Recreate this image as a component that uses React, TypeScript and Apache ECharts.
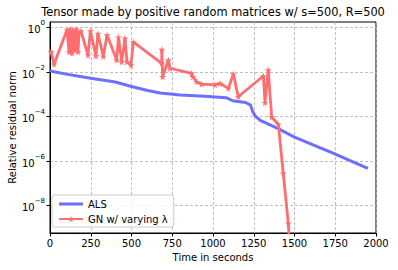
import React, { useEffect, useRef } from "react";
import * as echarts from "echarts";

const titleText = "Tensor made by positive random matrices w/ s=500, R=500";
const xLabel = "Time in seconds";
const yLabel = "Relative residual norm";
const xTicks = [0, 250, 500, 750, 1000, 1250, 1500, 1750, 2000];
const yTicks = [1e-8, 1e-6, 1e-4, 1e-2, 1];

const alsName = "ALS";
const alsTime = [0, 100, 250, 400, 500, 600, 675, 800, 950, 1080, 1100, 1120, 1200, 1230, 1245, 1260, 1290, 1400, 1500, 1750, 1950];
const alsResidual = [1.1e-2, 7.9e-3, 5.2e-3, 3.5e-3, 2.2e-3, 1.45e-3, 1.12e-3, 9.1e-4, 7.9e-4, 6.9e-4, 6.0e-4, 5.0e-4, 4.2e-4, 3.2e-4, 1.55e-4, 1.02e-4, 6.5e-5, 2.8e-5, 1.17e-5, 2.0e-6, 4.6e-7];

const gnName = "GN w/ varying λ";
const gnTime = [6, 25, 104, 117, 123, 135, 141, 153, 160, 172, 178, 190, 233, 248, 282, 294, 327, 350, 409, 420, 440, 460, 472, 497, 511, 685, 686, 691, 726, 736, 869, 877, 900, 931, 1012, 1043, 1094, 1125, 1155, 1309, 1319, 1339, 1360, 1401, 1431, 1462, 1475];
const gnResidual = [7.9e-2, 2.2e-2, 0.76, 7.8e-2, 0.83, 6.9e-2, 0.76, 9.5e-2, 0.83, 7.8e-2, 0.62, 0.68, 5.6e-2, 0.68, 5.1e-2, 0.52, 4.9e-2, 0.45, 3.4e-2, 0.36, 2.8e-2, 0.32, 2.8e-2, 2.0e-2, 0.22, 2.4e-2, 0.1, 6.0e-3, 3.4e-2, 1.45e-2, 8.5e-3, 5.9e-3, 3.6e-3, 2.8e-3, 2.6e-3, 3.0e-3, 1.8e-3, 7.9e-3, 7.6e-4, 6.5e-3, 4.1e-4, 1.2e-2, 9.3e-5, 4.3e-5, 2.75e-7, 1.55e-9, 3.2e-11];

const STAR = "path://M50,0 L61,35 L98,35 L68,57 L79,91 L50,70 L21,91 L32,57 L2,35 L39,35 Z";
const LINE_ICON = "path://M0,0 L24,0 L24,3 L0,3 Z";
const FONT = "DejaVu Sans";
const BLUE = "rgb(110,110,255)";
const RED = "rgb(255,110,110)";

export default function App() {
  const ref = useRef<HTMLDivElement>(null);
  useEffect(() => {
    if (!ref.current) return;
    const chart = echarts.init(ref.current, undefined, { renderer: "svg" });
    const option = {
      animation: false,
      backgroundColor: "#fff",
      textStyle: { fontFamily: FONT },
      graphic: [
        {
          type: "text",
          x: 213,
          y: 12,
          style: {
            text: titleText,
            fontFamily: FONT,
            fontSize: 11.4,
            fill: "#000",
            align: "center",
            verticalAlign: "middle",
          },
        },
        {
          type: "text",
          x: 12,
          y: 127.5,
          rotation: Math.PI / 2,
          style: {
            text: yLabel,
            fontFamily: FONT,
            fontSize: 10,
            fill: "#000",
            align: "center",
            verticalAlign: "middle",
          },
        },
        {
          type: "text",
          x: 213,
          y: 257,
          style: {
            text: xLabel,
            fontFamily: FONT,
            fontSize: 10,
            fill: "#000",
            align: "center",
            verticalAlign: "middle",
          },
        },
      ],
      grid: {
        left: 50, right: 22, top: 22, bottom: 37,
        containLabel: false,
        outerBoundsMode: "none",
        show: true, borderColor: "#000", borderWidth: 1, backgroundColor: "transparent",
      },
      legend: {
        left: 52,
        top: 195,
        orient: "vertical",
        itemWidth: 24,
        itemHeight: 8,
        itemGap: 5,
        padding: [4, 6, 3, 6],
        borderColor: "#cccccc",
        borderWidth: 1,
        borderRadius: 3,
        backgroundColor: "rgba(255,255,255,0.8)",
        textStyle: { fontFamily: FONT, fontSize: 10, color: "#000" },
        data: [{ name: alsName, icon: LINE_ICON, itemStyle: { color: BLUE } }, gnName],
      },
      xAxis: {
        type: "value",
        min: 0,
        max: 2000,
        interval: 250,
        axisLine: { show: true, lineStyle: { color: "#000", width: 1 } },
        axisTick: { show: true, inside: false, length: 3.5, lineStyle: { color: "#000" } },
        axisLabel: {
          fontFamily: FONT, fontSize: 10, color: "#000", margin: 5,
          formatter: (v: number) => String(v),
        },
        splitLine: { show: true, lineStyle: { color: "#b0b0b0", type: [3, 2], width: 0.8 } },
      },
      yAxis: {
        type: "log",
        logBase: 10,
        min: Math.pow(10, -9.245),
        max: Math.pow(10, 0.24),
        axisLine: { show: true, lineStyle: { color: "#000", width: 1 } },
        axisTick: { show: true, inside: false, length: 3.5, lineStyle: { color: "#000" }, customValues: yTicks },
        axisLabel: {
          customValues: yTicks,
          margin: 5,
          fontFamily: FONT,
          fontSize: 10,
          color: "#000",
          formatter: (v: number) => {
            const e = Math.round(Math.log10(v));
            return "{b|10}{s|" + (e < 0 ? "\u2212" + -e : String(e)) + "}";
          },
          rich: {
            b: { fontFamily: FONT, fontSize: 10, color: "#000", lineHeight: 15, verticalAlign: "bottom" },
            s: { fontFamily: FONT, fontSize: 7, color: "#000", lineHeight: 15, verticalAlign: "top" },
          },
        },
        splitLine: { show: true, lineStyle: { color: "#b0b0b0", type: [3, 2], width: 0.8 } },
      },
      series: [
        {
          name: alsName,
          type: "line",
          data: alsTime.map((t, i) => [t, alsResidual[i]]),
          showSymbol: false,
          symbol: "none",
          lineStyle: { color: BLUE, width: 3 },
          itemStyle: { color: BLUE },
          clip: true,
        },
        {
          name: gnName,
          type: "line",
          data: gnTime.map((t, i) => [t, gnResidual[i]]),
          symbol: STAR,
          symbolSize: 7,
          lineStyle: { color: RED, width: 2.8 },
          itemStyle: { color: RED },
          clip: true,
        },
      ],
    };
    chart.setOption(option as any);
    return () => chart.dispose();
  }, []);
  return <div ref={ref} style={{ width: 398, height: 270, position: "absolute", left: 0, top: 0 }} />;
}
